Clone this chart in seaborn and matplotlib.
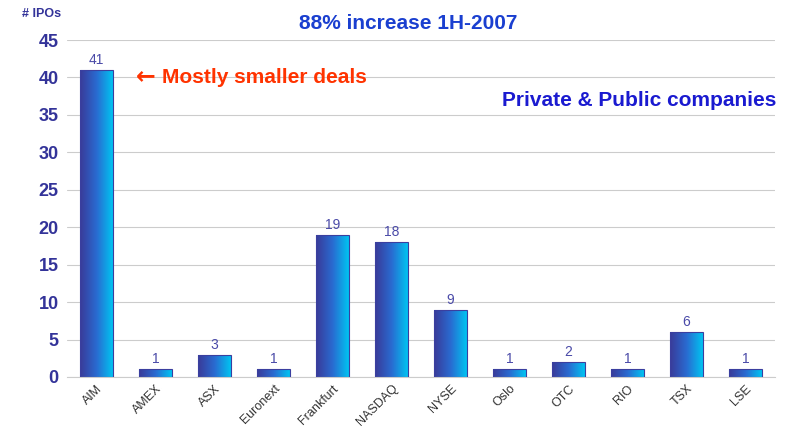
import matplotlib
matplotlib.use("Agg")
import matplotlib.pyplot as plt
import seaborn as sns
import numpy as np
import pandas as pd
from matplotlib.colors import LinearSegmentedColormap

exchanges = ["AIM", "AMEX", "ASX", "Euronext", "Frankfurt", "NASDAQ", "NYSE",
             "Oslo", "OTC", "RIO", "TSX", "LSE"]
ipos = [41, 1, 3, 1, 19, 18, 9, 1, 2, 1, 6, 1]
yticks = [0, 5, 10, 15, 20, 25, 30, 35, 40, 45]

df = pd.DataFrame({"exchange": exchanges, "ipos": ipos})

sns.set_style("white")
plt.rcParams['font.family'] = ['Liberation Sans', 'DejaVu Sans']

fig = plt.figure(figsize=(7.92, 4.28), dpi=100)
ax = fig.add_axes([0.0846, 0.1192, 0.894, 0.7873])

sns.barplot(data=df, x="exchange", y="ipos", ax=ax, width=0.55,
            color="#2a6fd0", edgecolor="#3a3f9f", linewidth=0.8, zorder=2)

# gradient fill clipped to each bar
grad = np.linspace(0, 1, 256).reshape(1, -1)
cmap = LinearSegmentedColormap.from_list("g", ["#3a3a98", "#2a6ad0", "#00c4f2"])
for p in ax.patches:
    x0, y0 = p.get_x(), p.get_y()
    w, h = p.get_width(), p.get_height()
    im = ax.imshow(grad, extent=[x0, x0 + w, y0, y0 + h], cmap=cmap,
                   aspect="auto", zorder=2.5, interpolation="bicubic")
    im.set_clip_path(p)
    p.set_facecolor("none")
    p.set_zorder(3)

ax.set_xlim(-0.5, len(exchanges) - 0.5)
ax.set_ylim(0, 45)
ax.set_yticks(yticks)
ax.set_yticklabels([str(t) for t in yticks], fontsize=13, fontweight="bold",
                   color="#333399")
ax.set_xticks(range(len(exchanges)))
ax.set_xticklabels(exchanges, rotation=45, ha="right", rotation_mode="anchor",
                   fontsize=9, color="#333333")
ax.tick_params(axis="y", length=0, pad=6)
ax.tick_params(axis="x", length=0, pad=4)
ax.set_xlabel("")
ax.set_ylabel("")
ax.grid(axis="y", color="#cccccc", linewidth=0.8, zorder=0)
ax.set_axisbelow(True)
for s in ["top", "right", "left"]:
    ax.spines[s].set_visible(False)
ax.spines["bottom"].set_color("#cccccc")

for i, v in enumerate(ipos):
    ax.text(i, v + 0.4, str(v), ha="center", va="bottom", fontsize=10,
            color="#4a4aa8")

fig.text(0.515, 0.945, "88% increase 1H-2007", ha="center", va="center",
         fontsize=15, fontweight="bold", color="#1a3fd0")
fig.text(0.98, 0.765, "Private & Public companies", ha="right", va="center",
         fontsize=15, fontweight="bold", color="#1a1ad0")
fig.text(0.171, 0.822, "\u2190", ha="left", va="center",
         fontsize=17, fontweight="bold", color="#ff3300",
         family=["DejaVu Sans"])
fig.text(0.205, 0.82, "Mostly smaller deals", ha="left", va="center",
         fontsize=15, fontweight="bold", color="#ff3300")
fig.text(0.028, 0.967, "# IPOs", ha="left", va="center", fontsize=9,
         fontweight="bold", color="#333399")

fig.savefig("out.png", dpi=100)
